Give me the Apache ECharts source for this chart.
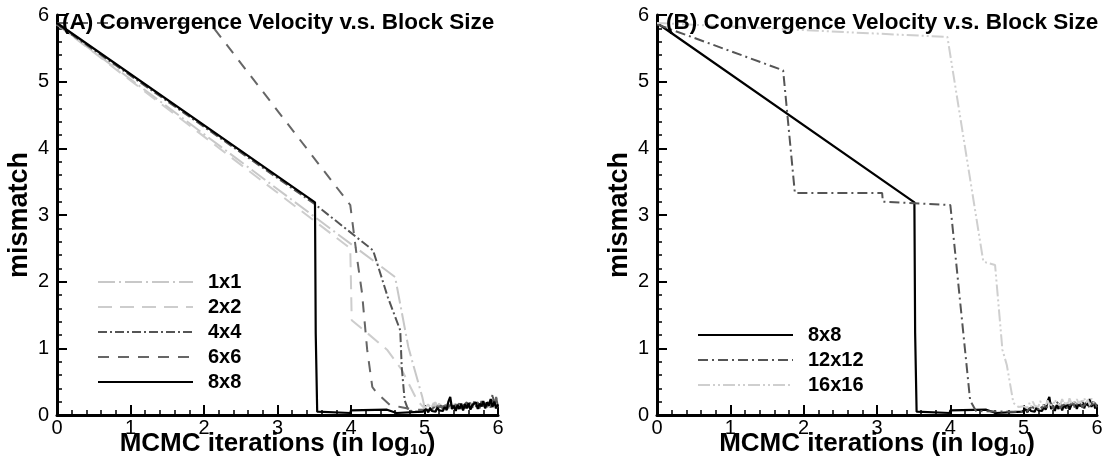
<!DOCTYPE html>
<html>
<head>
<meta charset="utf-8">
<script src="https://cdn.jsdelivr.net/npm/echarts@6/dist/echarts.min.js"></script>
<style>
  html, body { margin: 0; padding: 0; background: #fff; }
  #chart { width: 1106px; height: 466px; }
</style>
</head>
<body>
<div id="chart"></div>
<script>
  // x = MCMC iterations (log10), y = mismatch
  // the noisy tail after 10^5 iterations is read on this common x grid
  const noiseX = [5.000, 5.025, 5.050, 5.075, 5.100, 5.125, 5.150, 5.175, 5.200, 5.225,
                  5.250, 5.275, 5.300, 5.325, 5.350, 5.375, 5.400, 5.425, 5.450, 5.475,
                  5.500, 5.525, 5.550, 5.575, 5.600, 5.625, 5.650, 5.675, 5.700, 5.725,
                  5.750, 5.775, 5.800, 5.825, 5.850, 5.875, 5.900, 5.925, 5.950, 5.975, 6.000]

  // (A) block sizes 1x1 .. 8x8
  const a1x1X = [0, 4.60, 4.78, 4.84, 4.97]
  const a1x1Y = [5.86, 2.07, 1.02, 0.78, 0.27]
  const a1x1Tail = [0.12, 0.15, 0.10, 0.16, 0.12, 0.18, 0.11, 0.14, 0.17, 0.10, 0.15, 0.12, 0.16, 0.11,
                    0.14, 0.10, 0.13, 0.16, 0.11, 0.14, 0.12, 0.17, 0.10, 0.15, 0.12, 0.18, 0.11, 0.14,
                    0.16, 0.10, 0.15, 0.12, 0.17, 0.11, 0.14, 0.13, 0.18, 0.10, 0.15, 0.12, 0.14]

  const a2x2X = [0, 3.99, 4.01, 4.22, 4.49, 4.69, 4.90]
  const a2x2Y = [5.86, 2.50, 1.42, 1.23, 0.98, 0.68, 0.22]
  const a2x2Tail = [0.10, 0.13, 0.16, 0.11, 0.15, 0.12, 0.19, 0.10, 0.14, 0.12, 0.16, 0.11, 0.13, 0.15,
                    0.10, 0.14, 0.12, 0.17, 0.11, 0.15, 0.10, 0.13, 0.16, 0.12, 0.14, 0.11, 0.15, 0.13,
                    0.17, 0.10, 0.14, 0.12, 0.16, 0.11, 0.13, 0.15, 0.12, 0.17, 0.11, 0.14, 0.12]

  const a4x4X = [0, 3.50, 4.30, 4.50, 4.67, 4.69, 4.73, 4.78, 4.90]
  const a4x4Y = [5.86, 3.17, 2.47, 1.77, 1.27, 0.72, 0.22, 0.07, 0.05]
  const a4x4Tail = [0.06, 0.09, 0.05, 0.11, 0.07, 0.12, 0.06, 0.10, 0.08, 0.14, 0.09, 0.16, 0.07, 0.12,
                    0.10, 0.18, 0.08, 0.13, 0.11, 0.17, 0.09, 0.14, 0.12, 0.19, 0.10, 0.15, 0.11, 0.20,
                    0.13, 0.16, 0.10, 0.21, 0.12, 0.18, 0.14, 0.22, 0.11, 0.31, 0.15, 0.26, 0.12]

  const a6x6X = [0, 2.08, 3.99, 4.08, 4.15, 4.22, 4.29, 4.35, 4.53, 4.67, 4.85]
  const a6x6Y = [5.88, 5.88, 3.15, 2.37, 1.83, 0.98, 0.42, 0.33, 0.15, 0.12, 0.08]
  const a6x6Tail = [0.08, 0.10, 0.07, 0.12, 0.09, 0.11, 0.08, 0.13, 0.10, 0.12, 0.09, 0.14, 0.11, 0.15,
                    0.10, 0.13, 0.12, 0.16, 0.09, 0.14, 0.11, 0.17, 0.10, 0.15, 0.12, 0.18, 0.11, 0.16,
                    0.13, 0.19, 0.12, 0.17, 0.14, 0.20, 0.12, 0.18, 0.15, 0.24, 0.13, 0.27, 0.14]

  // 8x8 is the same run in both panels
  const a8x8X = [0, 3.51, 3.52, 3.54, 3.99, 4.00, 4.49, 4.62, 4.98]
  const a8x8Y = [5.88, 3.19, 1.23, 0.05, 0.03, 0.07, 0.08, 0.03, 0.05]
  const a8x8Tail = [0.06, 0.09, 0.04, 0.10, 0.06, 0.08, 0.05, 0.11, 0.07, 0.10, 0.06, 0.12, 0.08, 0.20,
                    0.27, 0.09, 0.14, 0.06, 0.15, 0.09, 0.17, 0.07, 0.16, 0.10, 0.18, 0.08, 0.15, 0.12,
                    0.19, 0.09, 0.17, 0.13, 0.21, 0.10, 0.19, 0.14, 0.24, 0.12, 0.20, 0.10, 0.16]

  // (B) block sizes 12x12, 16x16
  const b12X = [0, 1.72, 1.88, 3.07, 3.08, 4.00, 4.27, 4.35, 4.80]
  const b12Y = [5.86, 5.17, 3.33, 3.33, 3.20, 3.15, 0.22, 0.06, 0.05]
  const b12Tail = [0.05, 0.08, 0.06, 0.10, 0.07, 0.12, 0.08, 0.11, 0.09, 0.14, 0.10, 0.16, 0.08, 0.13,
                   0.11, 0.18, 0.09, 0.15, 0.12, 0.20, 0.10, 0.14, 0.11, 0.17, 0.09, 0.15, 0.12, 0.18,
                   0.10, 0.16, 0.13, 0.19, 0.11, 0.15, 0.12, 0.17, 0.10, 0.16, 0.13, 0.18, 0.11]

  const b16X = [0, 3.96, 4.45, 4.61, 4.71, 4.77, 4.86, 4.93]
  const b16Y = [5.88, 5.67, 2.30, 2.25, 0.98, 0.75, 0.18, 0.12]
  const b16Tail = [0.13, 0.16, 0.11, 0.18, 0.12, 0.20, 0.14, 0.17, 0.12, 0.21, 0.15, 0.18, 0.13, 0.22,
                   0.16, 0.19, 0.14, 0.23, 0.17, 0.20, 0.15, 0.24, 0.16, 0.21, 0.14, 0.25, 0.18, 0.22,
                   0.15, 0.24, 0.17, 0.21, 0.16, 0.26, 0.18, 0.23, 0.15, 0.25, 0.19, 0.22, 0.17]

  const legendA = ['1x1', '2x2', '4x4', '6x6', '8x8']
  const legendB = ['8x8', '12x12', '16x16']
  const titles = ['(A) Convergence Velocity v.s. Block Size', '(B) Convergence Velocity v.s. Block Size']

  const FONT = '"Liberation Sans", Arial, sans-serif'

  function pts(hx, hy, tail) {
    const xs = hx.concat(noiseX)
    const ys = hy.concat(tail)
    return xs.map((x, i) => [x, ys[i]])
  }

  function line(name, idx, data, color, dash, width) {
    return {
      name: name,
      type: 'line',
      xAxisIndex: idx,
      yAxisIndex: idx,
      data: data,
      symbol: 'none',
      showSymbol: false,
      animation: false,
      itemStyle: { color: color },
      lineStyle: { color: color, width: width || 2, type: dash }
    }
  }

  function xAxis(idx) {
    return {
      type: 'value',
      gridIndex: idx,
      min: 0, max: 6, interval: 1,
      axisLine: { show: true, onZero: false, lineStyle: { color: '#000', width: 3 } },
      axisTick: { show: true, inside: true, length: 10, lineStyle: { color: '#000', width: 2 } },
      minorTick: { show: true, splitNumber: 5, length: 5, lineStyle: { color: '#000', width: 1.5 } },
      splitLine: { show: false },
      axisLabel: { color: '#000', fontSize: 20, fontFamily: FONT, margin: 3 },
      name: 'MCMC iterations (in log{sub|10})',
      nameLocation: 'middle',
      nameGap: 16,
      nameMoveOverlap: false,
      nameTextStyle: {
        color: '#000', fontSize: 26, fontWeight: 'bold', fontFamily: FONT,
        rich: {
          sub: { fontSize: 15, fontWeight: 'bold', fontFamily: FONT, color: '#000',
                 lineHeight: 15, padding: [16, 0, 0, 0], verticalAlign: 'bottom' }
        }
      }
    }
  }

  function yAxis(idx) {
    return {
      type: 'value',
      gridIndex: idx,
      min: 0, max: 6, interval: 1,
      axisLine: { show: true, onZero: false, lineStyle: { color: '#000', width: 3 } },
      axisTick: { show: true, inside: true, length: 10, lineStyle: { color: '#000', width: 2 } },
      minorTick: { show: true, splitNumber: 5, length: 5, lineStyle: { color: '#000', width: 1.5 } },
      splitLine: { show: false },
      axisLabel: { color: '#000', fontSize: 20, fontFamily: FONT, margin: 8 },
      name: 'mismatch',
      nameLocation: 'middle',
      nameRotate: 90,
      nameGap: 24,
      nameMoveOverlap: false,
      nameTextStyle: { color: '#000', fontSize: 27, fontWeight: 'bold', fontFamily: FONT }
    }
  }

  function legend(names, left, top) {
    return {
      data: names,
      orient: 'vertical',
      left: left, top: top,
      padding: 0,
      itemWidth: 95, itemHeight: 20, itemGap: 5,
      selectedMode: false,
      // no marker dot on the legend lines
      itemStyle: { color: 'rgba(0,0,0,0)', borderWidth: 0, opacity: 0 },
      textStyle: { color: '#000', fontSize: 20, fontWeight: 'bold', fontFamily: FONT,
                   lineHeight: 20, padding: [0, 0, 0, 10] }
    }
  }

  const chart = echarts.init(document.getElementById('chart'))
  chart.setOption({
    backgroundColor: '#fff',
    animation: false,
    title: [
      { text: titles[0], left: 62, top: 11, padding: 0,
        textStyle: { color: '#000', fontSize: 22.5, fontWeight: 'bold', fontFamily: FONT } },
      { text: titles[1], left: 666, top: 11, padding: 0,
        textStyle: { color: '#000', fontSize: 22.5, fontWeight: 'bold', fontFamily: FONT } }
    ],
    grid: [
      { left: 57, top: 15, width: 441, height: 400, containLabel: false, outerBoundsMode: 'none' },
      { left: 657, top: 15, width: 440, height: 400, containLabel: false, outerBoundsMode: 'none' }
    ],
    xAxis: [xAxis(0), xAxis(1)],
    yAxis: [yAxis(0), yAxis(1)],
    legend: [legend(legendA, 97, 272), legend(legendB, 697, 325)],
    series: [
      line('1x1', 0, pts(a1x1X, a1x1Y, a1x1Tail), '#c8c8c8', [17, 4, 2, 4]),
      line('2x2', 0, pts(a2x2X, a2x2Y, a2x2Tail), '#cdcdcd', [14, 8]),
      line('4x4', 0, pts(a4x4X, a4x4Y, a4x4Tail), '#555555', [9, 3, 2, 3]),
      line('6x6', 0, pts(a6x6X, a6x6Y, a6x6Tail), '#666666', [11, 9]),
      line('8x8', 0, pts(a8x8X, a8x8Y, a8x8Tail), '#000000', 'solid', 2.2),

      line('8x8', 1, pts(a8x8X, a8x8Y, a8x8Tail), '#000000', 'solid', 2.2),
      line('12x12', 1, pts(b12X, b12Y, b12Tail), '#555555', [10, 4, 2, 4]),
      line('16x16', 1, pts(b16X, b16Y, b16Tail), '#cfcfcf', [12, 3, 2, 3, 2, 3])
    ]
  })
</script>
</body>
</html>
